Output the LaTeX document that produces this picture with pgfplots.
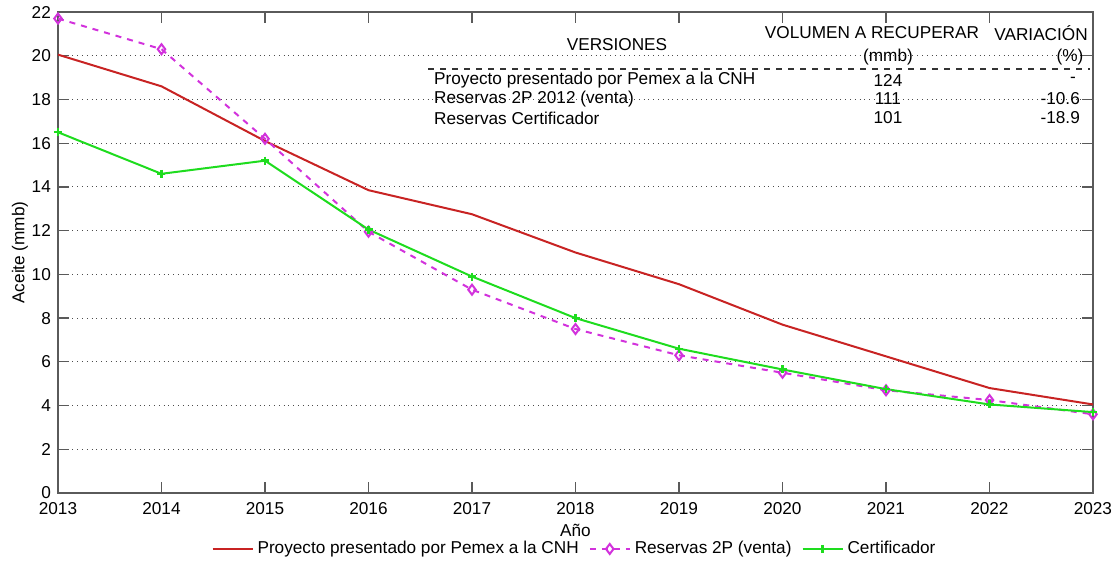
\documentclass[border=0pt]{standalone}
\usepackage{fontspec}
\setmainfont{Liberation Sans}
\usepackage{pgfplots}
\pgfplotsset{compat=1.18}
\definecolor{cred}{RGB}{200,35,35}
\definecolor{cmag}{RGB}{210,50,220}
\definecolor{cgreen}{RGB}{30,220,30}
\definecolor{caxis}{RGB}{90,90,90}
\pgfplotstableread{
year proy res2p cert
2013 20.05 21.70 16.50
2014 18.60 20.30 14.60
2015 16.10 16.20 15.20
2016 13.85 11.95 12.05
2017 12.75 9.30 9.90
2018 11.00 7.50 8.00
2019 9.55 6.30 6.60
2020 7.70 5.50 5.65
2021 6.25 4.70 4.75
2022 4.80 4.25 4.05
2023 4.05 3.60 3.70
}\datatable
\begin{document}
\fontsize{8.6}{10}\selectfont
\begin{tikzpicture}
\begin{axis}[name=ax,
  width=517.5pt, height=240.5pt, scale only axis,
  xmin=2013, xmax=2023, ymin=0, ymax=22,
  xtick={2013,...,2023}, ytick={0,2,...,22},
  /pgf/number format/assume math mode=true,
  x tick label style={/pgf/number format/1000 sep=, yshift=-1.5pt},
  y tick label style={xshift=-0.5pt},
  tick label style={font=\fontsize{8.6}{10}\selectfont},
  label style={font=\fontsize{8.6}{10}\selectfont},
  tick align=inside, major tick length=5.5pt,
  axis line style={caxis, line width=0.8pt},
  tick style={caxis, line width=0.6pt},
  ymajorgrids, major grid style={dotted, black!70, line width=0.5pt},
  xlabel={Año}, ylabel={Aceite (mmb)},
  xlabel style={at={(axis description cs:0.5,-0.077)}, anchor=center},
  ylabel style={at={(axis description cs:-0.0367,0.5)}, anchor=center},
  legend style={at={(0.5,-0.1164)}, anchor=center, draw=none, fill=none,
    legend columns=-1, font=\fontsize{8.6}{10}\selectfont,
    /tikz/every even column/.append style={column sep=3pt}},
  legend image code/.code={\draw[#1] (0pt,0pt) -- (20pt,0pt); \draw[#1, solid] plot coordinates {(10pt,0pt)};},
]
\addplot[cred, line width=1pt] table[x=year, y=proy] {\datatable};
\addlegendentry{Proyecto presentado por Pemex a la CNH}
\addplot[cmag, line width=1pt, dashed, mark=diamond, mark size=2.5pt, mark options={solid}] table[x=year, y=res2p] {\datatable};
\addlegendentry{Reservas 2P (venta)}
\addplot[cgreen, line width=1pt, mark=+, mark size=2pt, mark options={solid, line width=1.2pt}] table[x=year, y=cert] {\datatable};
\addlegendentry{Certificador}

\node at (axis cs:2018.401,20.49) {VERSIONES};
\node at (axis cs:2020.865,21.04) {VOLUMEN A RECUPERAR};
\node at (axis cs:2021.019,19.94) {(mmb)};
\node at (axis cs:2022.498,21.04) {VARIACIÓN};
\node at (axis cs:2022.778,19.94) {(\%)};
\draw[black!80, dashed, line width=0.7pt] (axis cs:2016.575,19.39) -- (axis cs:2022.971,19.39);
\node[anchor=west] at (axis cs:2016.575,18.89) {Proyecto presentado por Pemex a la CNH};
\node[anchor=west] at (axis cs:2016.575,18.02) {Reservas 2P 2012 (venta)};
\node[anchor=west] at (axis cs:2016.575,17.15) {Reservas Certificador};
\node at (axis cs:2021.019,18.89) {124};
\node at (axis cs:2021.019,18.02) {111};
\node at (axis cs:2021.019,17.15) {101};
\node at (axis cs:2022.807,18.89) {-};
\node[anchor=east] at (axis cs:2022.932,18.02) {-10.6};
\node[anchor=east] at (axis cs:2022.932,17.15) {-18.9};
\end{axis}
\pgfresetboundingbox
\path[use as bounding box] ([xshift=-29pt,yshift=-35pt]ax.south west) rectangle ([xshift=10.5pt,yshift=6pt]ax.north east);
\end{tikzpicture}
\end{document}
